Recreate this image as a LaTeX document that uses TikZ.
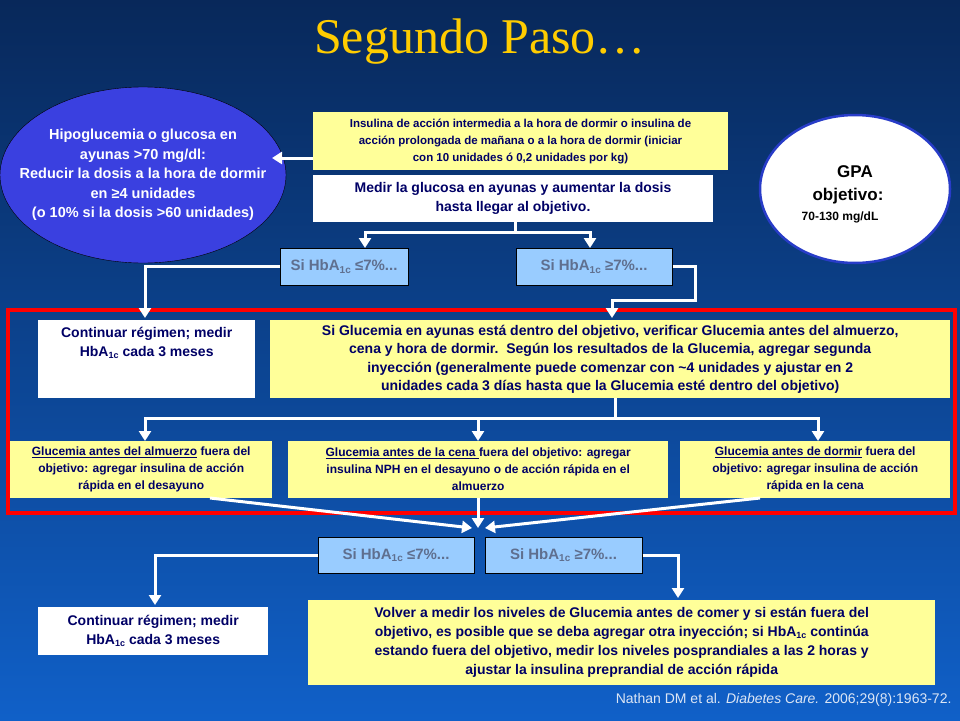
\documentclass[tikz,border=0pt]{standalone}
\usepackage{fontspec}
\setmainfont{Liberation Sans}
\newfontfamily\titlefont{Liberation Serif}
\usetikzlibrary{arrows.meta,shapes.geometric}
\definecolor{navy}{HTML}{000066}
\definecolor{ylw}{HTML}{FFFF99}
\definecolor{lblue}{HTML}{99CCFF}
\definecolor{hgray}{HTML}{5F6F8F}
\newcommand{\hba}[1]{\textbf{Si HbA\raisebox{-2.5pt}{\fontsize{10}{10}\selectfont 1c} #1\%...}}
\newcommand{\hbs}{HbA\raisebox{-2pt}{\fontsize{9}{9}\selectfont 1c}}
\tikzset{
  box/.style={draw=none,inner sep=2pt,align=center,font=\bfseries\color{navy}},
  ybox/.style={box,fill=ylw},
  wbox/.style={box,fill=white},
  hbox/.style={draw=black,line width=1pt,fill=lblue,font=\fontsize{15}{15}\selectfont\color{hgray},inner sep=0pt},
  conn/.style={white,line width=3pt},
  arr/.style={white,line width=3pt,-{Triangle[length=10pt,width=12pt]}},
}
\begin{document}
\begin{tikzpicture}[x=1pt,y=-1pt]
\shade[top color={rgb,255:red,8;green,40;blue,90},bottom color={rgb,255:red,16;green,96;blue,200}] (0,0) rectangle (960,720);
\useasboundingbox (0,0) rectangle (960,720);
\node[font=\titlefont\fontsize{50}{50}\selectfont,text={rgb,255:red,255;green,204;blue,0}] (title) at (480,42) {Segundo Paso…};
% circle left
\node[ellipse,draw=black,fill={rgb,255:red,58;green,64;blue,224},minimum width=286,minimum height=176,inner sep=0pt] (hypo) at (143,175) {};
\node[align=center,text=white,font=\bfseries\fontsize{14.5}{19.5}\selectfont] (hypot) at (143,175) {Hipoglucemia o glucosa en\\ayunas >70 mg/dl:\\Reducir la dosis a la hora de dormir\\en ≥4 unidades\\(o 10\% si la dosis >60 unidades)};
\node[ybox,minimum width=415,minimum height=58,font=\bfseries\fontsize{11.5}{17}\selectfont\color{navy}] (ins) at (520.5,141) {Insulina de acción intermedia a la hora de dormir o insulina de\\acción prolongada de mañana o a la hora de dormir (iniciar\\con 10 unidades ó 0,2 unidades por kg)};
\node[wbox,minimum width=400,minimum height=47,font=\bfseries\fontsize{14}{19}\selectfont\color{navy}] (med) at (513,198.5) {Medir la glucosa en ayunas y aumentar la dosis\\hasta llegar al objetivo.};
\node[ellipse,draw={rgb,255:red,40;green,60;blue,200},line width=2.5pt,fill=white,minimum width=190,minimum height=148,inner sep=0pt] (gpa) at (855,189) {};
\node[font=\bfseries\fontsize{17}{17}\selectfont] (gpa1) at (855,172) {GPA};
\node[font=\bfseries\fontsize{17}{17}\selectfont] (gpa2) at (848,196) {objetivo:};
\node[font=\bfseries\fontsize{12}{12}\selectfont] (gpa3) at (840,217) {70-130 mg/dL};
\draw[arr] (ins.west |- 0,158) -- (272,158);
% split 1
\node[hbox,minimum width=128,minimum height=37] (h1) at (344,266.5) {\hba{≤7}};
\node[hbox,minimum width=156,minimum height=37] (h2) at (594,266.5) {\hba{≥7}};
\coordinate (s1) at (515,232);
\draw[conn] (med.south -| s1) -- (s1);
\draw[arr] (s1) -| (365,248);
\draw[arr] (s1) -| (590,248);
% red frame
\draw[red,line width=3.5pt] (8,310) rectangle (955,513);
\node[wbox,minimum width=217,minimum height=78,anchor=north west,font=\bfseries\fontsize{14}{19}\selectfont\color{navy}] (cont1) at (38,320) {Continuar régimen; medir\\\hbs{} cada 3 meses\\[16pt]};
\node[ybox,minimum width=680,minimum height=78,anchor=north west,font=\bfseries\fontsize{14}{18.5}\selectfont\color{navy}] (sig) at (270,320) {Si Glucemia en ayunas está dentro del objetivo, verificar Glucemia antes del almuerzo,\\cena y hora de dormir.\ \ Según los resultados de la Glucemia, agregar segunda\\inyección (generalmente puede comenzar con \textasciitilde4 unidades y ajustar en 2\\unidades cada 3 días hasta que la Glucemia esté dentro del objetivo)};
\draw[arr] (h1.west) -| (145,318);
\draw[arr] (h2.east) -- (695,266.5) -- (695,300) -| (612,318);
% split 2
\coordinate (s2) at (615,418);
\draw[conn] (sig.south -| s2) -- (s2);
\draw[arr] (s2) -| (145,441);
\draw[arr] (s2) -| (478,441);
\draw[arr] (s2) -| (818,441);
\tikzset{sm/.style={ybox,minimum height=57,anchor=north west,font=\bfseries\fontsize{12}{17}\selectfont\color{navy}}}
\node[sm,minimum width=262] (g1) at (10,441) {\underline{Glucemia antes del almuerzo} fuera del\\objetivo: agregar insulina de acción\\rápida en el desayuno};
\node[sm,minimum width=380] (g2) at (288,441) {\underline{Glucemia antes de la cena }fuera del objetivo: agregar\\insulina NPH en el desayuno o de acción rápida en el\\almuerzo};
\node[sm,minimum width=270] (g3) at (680,441) {\underline{Glucemia antes de dormir} fuera del\\objetivo: agregar insulina de acción\\rápida en la cena};
\coordinate (m1) at (210,498);
\coordinate (m3) at (760,498);
\draw[arr] (m1) -- (472,528);
\draw[arr] (g2.south -| 478,0) -- (478,528);
\draw[arr] (m3) -- (485,528);
\node[hbox,minimum width=156,minimum height=36] (h3) at (396,555) {\hba{≤7}};
\node[hbox,minimum width=157,minimum height=36] (h4) at (563.5,555) {\hba{≥7}};
\node[wbox,minimum width=230,minimum height=48,anchor=north west,font=\bfseries\fontsize{14}{19}\selectfont\color{navy}] (cont2) at (38,607) {Continuar régimen; medir\\\hbs{} cada 3 meses};
\node[ybox,minimum width=627,minimum height=85,anchor=north west,font=\bfseries\fontsize{14}{19}\selectfont\color{navy}] (vol) at (308,600) {Volver a medir los niveles de Glucemia antes de comer y si están fuera del\\objetivo, es posible que se deba agregar otra inyección; si \hbs{} continúa\\estando fuera del objetivo, medir los niveles posprandiales a las 2 horas y\\ajustar la insulina preprandial de acción rápida};
\draw[arr] (h3.west) -| (155,605);
\draw[arr] (h4.east) -| (678,598);
\node[anchor=east,text={rgb,255:red,220;green,230;blue,245},font=\fontsize{14}{14}\selectfont] (cite) at (955,700) {Nathan DM et al. \textit{Diabetes Care.} 2006;29(8):1963-72.};
\end{tikzpicture}
\end{document}
